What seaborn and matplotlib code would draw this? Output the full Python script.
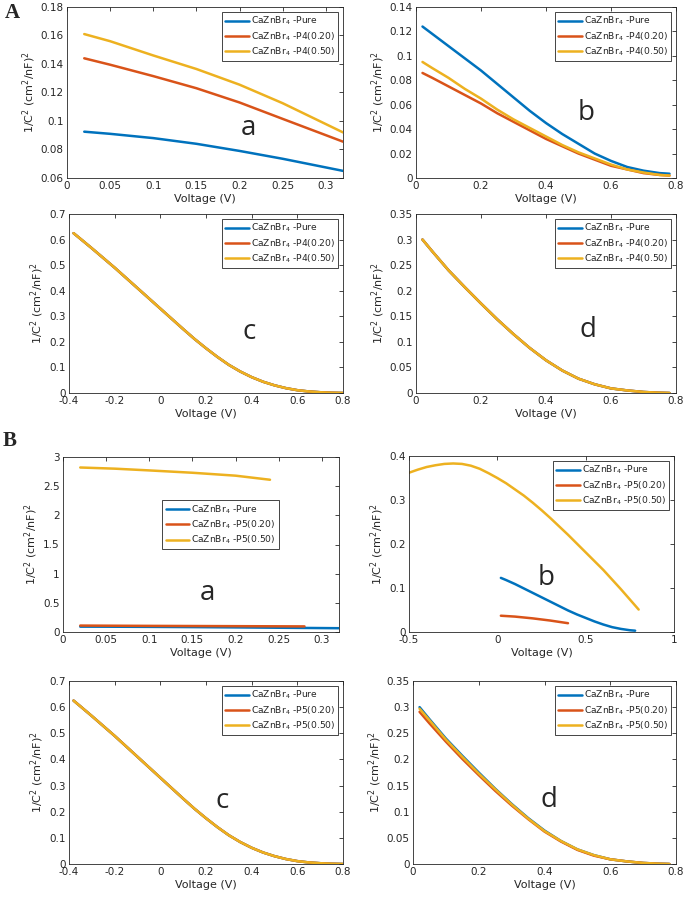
import numpy as np
import pandas as pd
import matplotlib
matplotlib.use("Agg")
import matplotlib.pyplot as plt
from matplotlib.ticker import FuncFormatter
import seaborn as sns

# series labels and colours (MATLAB default order)
labels_p4 = [r"CaZnBr$_4$ -Pure", r"CaZnBr$_4$ -P4(0.20)", r"CaZnBr$_4$ -P4(0.50)"]
labels_p5 = [r"CaZnBr$_4$ -Pure", r"CaZnBr$_4$ -P5(0.20)", r"CaZnBr$_4$ -P5(0.50)"]
colors = ["#0072BD", "#D95319", "#EDB120"]

# ---- A-a
aa_x = [0.02, 0.05, 0.10, 0.15, 0.20, 0.25, 0.32]
aa_pure = [0.0925, 0.0910, 0.0880, 0.0840, 0.0790, 0.0735, 0.0650]
aa_p20 = [0.1440, 0.1395, 0.1315, 0.1230, 0.1130, 0.1015, 0.0855]
aa_p50 = [0.1610, 0.1560, 0.1460, 0.1365, 0.1255, 0.1125, 0.0920]

# ---- A-b
ab_x = [0.02, 0.05, 0.1, 0.15, 0.2, 0.25, 0.3, 0.35, 0.4, 0.45, 0.5, 0.55,
        0.6, 0.65, 0.7, 0.75, 0.78]
ab_pure = [0.124, 0.118, 0.108, 0.098, 0.088, 0.077, 0.066, 0.055, 0.045,
           0.036, 0.028, 0.020, 0.014, 0.009, 0.006, 0.004, 0.0035]
ab_p20 = [0.086, 0.082, 0.075, 0.068, 0.061, 0.053, 0.046, 0.039, 0.032,
          0.026, 0.020, 0.015, 0.010, 0.007, 0.004, 0.0025, 0.002]
ab_p50 = [0.095, 0.090, 0.082, 0.073, 0.065, 0.056, 0.048, 0.041, 0.034,
          0.027, 0.021, 0.016, 0.011, 0.007, 0.0045, 0.0025, 0.002]

# ---- A-c (all three overlap)
ac_x = [-0.38, -0.35, -0.3, -0.25, -0.2, -0.15, -0.1, -0.05, 0.0, 0.05, 0.1,
        0.15, 0.2, 0.25, 0.3, 0.35, 0.4, 0.45, 0.5, 0.55, 0.6, 0.65, 0.7, 0.75, 0.8]
ac_y = [0.625, 0.603, 0.566, 0.528, 0.490, 0.450, 0.410, 0.370, 0.330, 0.290,
        0.250, 0.211, 0.175, 0.141, 0.110, 0.084, 0.062, 0.044, 0.030, 0.019,
        0.011, 0.006, 0.003, 0.001, 0.0]

# ---- A-d (all three overlap)
ad_x = [0.02, 0.05, 0.1, 0.15, 0.2, 0.25, 0.3, 0.35, 0.4, 0.45, 0.5, 0.55,
        0.6, 0.65, 0.7, 0.75, 0.78]
ad_y = [0.300, 0.277, 0.240, 0.207, 0.175, 0.144, 0.115, 0.088, 0.064, 0.044,
        0.028, 0.017, 0.009, 0.005, 0.002, 0.0005, 0.0]

# ---- B-a
ba_x_pure = [0.02, 0.05, 0.10, 0.15, 0.20, 0.25, 0.32]
ba_pure = [0.092, 0.091, 0.088, 0.084, 0.079, 0.073, 0.065]
ba_x_p20 = [0.02, 0.10, 0.20, 0.28]
ba_p20 = [0.110, 0.105, 0.100, 0.096]
ba_x_p50 = [0.02, 0.06, 0.10, 0.15, 0.20, 0.24]
ba_p50 = [2.82, 2.80, 2.77, 2.73, 2.68, 2.61]

# ---- B-b
bb_x_pure = [0.02, 0.05, 0.1, 0.15, 0.2, 0.25, 0.3, 0.35, 0.4, 0.45, 0.5,
             0.55, 0.6, 0.65, 0.7, 0.75, 0.78]
bb_pure = [0.123, 0.118, 0.109, 0.099, 0.089, 0.079, 0.069, 0.059, 0.049,
           0.040, 0.032, 0.024, 0.017, 0.011, 0.007, 0.004, 0.003]
bb_x_p20 = [0.02, 0.1, 0.2, 0.3, 0.4]
bb_p20 = [0.037, 0.035, 0.031, 0.026, 0.020]
bb_x_p50 = [-0.5, -0.45, -0.4, -0.35, -0.3, -0.25, -0.2, -0.15, -0.1, -0.05,
            0.0, 0.05, 0.1, 0.15, 0.2, 0.25, 0.3, 0.35, 0.4, 0.45, 0.5, 0.55,
            0.6, 0.65, 0.7, 0.75, 0.8]
bb_p50 = [0.362, 0.369, 0.375, 0.379, 0.382, 0.383, 0.382, 0.378, 0.371,
          0.361, 0.350, 0.338, 0.324, 0.310, 0.294, 0.277, 0.259, 0.240,
          0.221, 0.201, 0.181, 0.161, 0.141, 0.119, 0.097, 0.074, 0.051]

# ---- B-c (all three overlap)
bc_x = list(ac_x)
bc_y = list(ac_y)

# ---- B-d
bd_x = [0.02, 0.05, 0.1, 0.15, 0.2, 0.25, 0.3, 0.35, 0.4, 0.45, 0.5, 0.55,
        0.6, 0.65, 0.7, 0.75, 0.78]
bd_pure = [0.300, 0.277, 0.240, 0.207, 0.175, 0.144, 0.115, 0.088, 0.064,
           0.044, 0.028, 0.017, 0.009, 0.005, 0.002, 0.0005, 0.0]
bd_p20 = [0.291, 0.269, 0.234, 0.201, 0.170, 0.140, 0.112, 0.086, 0.062,
          0.043, 0.027, 0.016, 0.009, 0.005, 0.002, 0.0005, 0.0]
bd_p50 = [0.297, 0.275, 0.238, 0.205, 0.173, 0.143, 0.114, 0.087, 0.063,
          0.044, 0.028, 0.017, 0.009, 0.005, 0.002, 0.0005, 0.0]


def make_df(series, labels):
    frames = []
    for (x, y), lab in zip(series, labels):
        frames.append(pd.DataFrame({"V": x, "C": y, "Sample": lab}))
    return pd.concat(frames, ignore_index=True)


sns.set_theme(style="white")
plt.rcParams["font.family"] = ["DejaVu Sans"]
plt.rcParams["mathtext.fontset"] = "dejavusans"

fig = plt.figure(figsize=(6.85, 9.02), dpi=100)
W, H = 685.0, 902.0


def panel(box, series, labels, xlim, xticks, ylim, yticks, letter, letter_xy,
          legend_anchor=None):
    l, t, r, b = box
    ax = fig.add_axes([l / W, 1 - b / H, (r - l) / W, (b - t) / H])
    df = make_df(series, labels)
    sns.lineplot(data=df, x="V", y="C", hue="Sample", palette=colors,
                 linewidth=1.8, ax=ax, sort=False, estimator=None)
    ax.set_xlim(*xlim)
    ax.set_ylim(*ylim)
    ax.set_xticks(xticks)
    ax.set_yticks(yticks)
    fmt = FuncFormatter(lambda v, p: "%g" % round(v, 4))
    ax.xaxis.set_major_formatter(fmt)
    ax.yaxis.set_major_formatter(fmt)
    ax.tick_params(direction="in", top=True, right=True, length=3, width=0.6,
                   labelsize=7.5, colors="#262626", pad=2.5)
    for s in ax.spines.values():
        s.set_linewidth(0.6)
        s.set_color("#262626")
    ax.set_xlabel("Voltage (V)", fontsize=8, labelpad=2)
    ax.set_ylabel(r"1/C$^2$ (cm$^2$/nF)$^2$", fontsize=8, labelpad=2)
    if legend_anchor is None:
        leg = ax.legend(loc="upper right", fontsize=6.6, fancybox=False,
                        framealpha=1, edgecolor="#262626", handlelength=2.6,
                        labelspacing=0.3, borderpad=0.35, handletextpad=0.2,
                        borderaxespad=0.5)
    else:
        leg = ax.legend(loc="upper left", bbox_to_anchor=legend_anchor,
                        fontsize=6.6, fancybox=False, framealpha=1,
                        edgecolor="#262626", handlelength=2.6,
                        labelspacing=0.3, borderpad=0.35, handletextpad=0.2,
                        borderaxespad=0)
    leg.get_frame().set_linewidth(0.6)
    ax.text(letter_xy[0], letter_xy[1], letter, fontsize=20, ha="center",
            va="center", family="Open Sans")
    return ax


panel((67, 7, 343, 178),
      [(aa_x, aa_pure), (aa_x, aa_p20), (aa_x, aa_p50)], labels_p4,
      (0, 0.32), np.arange(0, 0.31, 0.05), (0.06, 0.18), np.arange(0.06, 0.181, 0.02),
      "a", (0.21, 0.095))
panel((416, 7, 676, 178),
      [(ab_x, ab_pure), (ab_x, ab_p20), (ab_x, ab_p50)], labels_p4,
      (0, 0.8), np.arange(0, 0.81, 0.2), (0, 0.14), np.arange(0, 0.141, 0.02),
      "b", (0.525, 0.053))
panel((69, 214, 343, 393),
      [(ac_x, ac_y), (ac_x, ac_y), (ac_x, ac_y)], labels_p4,
      (-0.4, 0.8), np.arange(-0.4, 0.81, 0.2), (0, 0.7), np.arange(0, 0.71, 0.1),
      "c", (0.39, 0.24))
panel((416, 214, 676, 393),
      [(ad_x, ad_y), (ad_x, ad_y), (ad_x, ad_y)], labels_p4,
      (0, 0.8), np.arange(0, 0.81, 0.2), (0, 0.35), np.arange(0, 0.351, 0.05),
      "d", (0.53, 0.123))

panel((63, 457, 339, 632),
      [(ba_x_pure, ba_pure), (ba_x_p20, ba_p20), (ba_x_p50, ba_p50)], labels_p5,
      (0, 0.32), np.arange(0, 0.31, 0.05), (0, 3), np.arange(0, 3.01, 0.5),
      "a", (0.168, 0.67), legend_anchor=(0.36, 0.754))
panel((409, 456, 674, 632),
      [(bb_x_pure, bb_pure), (bb_x_p20, bb_p20), (bb_x_p50, bb_p50)], labels_p5,
      (-0.5, 1), np.arange(-0.5, 1.01, 0.5), (0, 0.4), np.arange(0, 0.41, 0.1),
      "b", (0.277, 0.122))
panel((69, 681, 343, 864),
      [(bc_x, bc_y), (bc_x, bc_y), (bc_x, bc_y)], labels_p5,
      (-0.4, 0.8), np.arange(-0.4, 0.81, 0.2), (0, 0.7), np.arange(0, 0.71, 0.1),
      "c", (0.27, 0.24))
panel((413, 681, 676, 864),
      [(bd_x, bd_pure), (bd_x, bd_p20), (bd_x, bd_p50)], labels_p5,
      (0, 0.8), np.arange(0, 0.81, 0.2), (0, 0.35), np.arange(0, 0.351, 0.05),
      "d", (0.415, 0.123))

fig.text(12 / W, 1 - 13 / H, "A", fontsize=15, fontweight="bold",
         family="Liberation Serif", ha="center", va="center")
fig.text(10 / W, 1 - 441 / H, "B", fontsize=15, fontweight="bold",
         family="Liberation Serif", ha="center", va="center")

fig.savefig("out.png", dpi=100)
